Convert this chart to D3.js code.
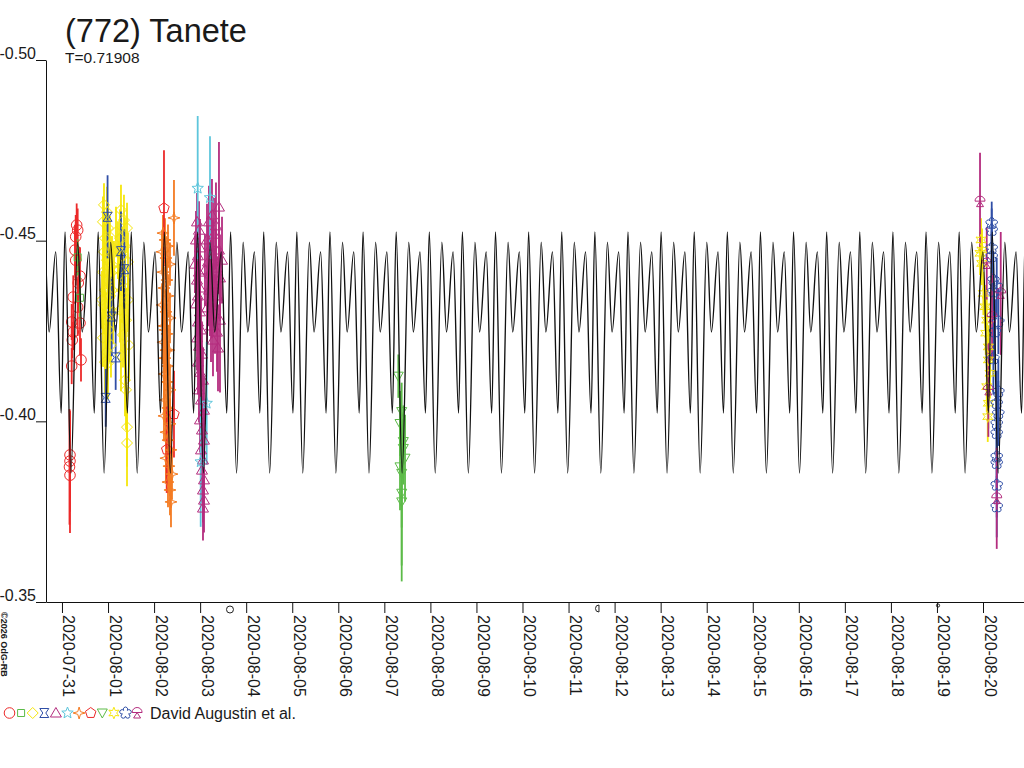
<!DOCTYPE html>
<html>
<head>
<meta charset="utf-8">
<title>(772) Tanete</title>
<script src="https://cdn.jsdelivr.net/npm/d3@7/dist/d3.min.js"></script>
<style>
  body { margin: 0; background: #fff; }
  svg { display: block; }
  text { font-family: "Liberation Sans", Arial, sans-serif; fill: #1a1a1a; }
</style>
</head>
<body>
<div id="chart"></div>
<script>
// all times are days after 2020-07-31 00:00 UT
const T0 = Date.UTC(2020, 6, 31);
const DAY = 86400000;
const dayDomain = [-0.347, 20.89];

// model lightcurve: one rotation, phase 0 = main maximum
const period = 0.71908;
const epoch = 3.661;
const profilePhase = [0, 0.18, 0.38, 0.52, 0.72, 0.885];
const profileMag = [-0.4524, -0.3857, -0.4496, -0.4247, -0.4469, -0.4023];

const magTicks = [-0.50, -0.45, -0.40, -0.35];
const dateTicks = ['2020-07-31', '2020-08-01', '2020-08-02', '2020-08-03', '2020-08-04',
  '2020-08-05', '2020-08-06', '2020-08-07', '2020-08-08', '2020-08-09', '2020-08-10',
  '2020-08-11', '2020-08-12', '2020-08-13', '2020-08-14', '2020-08-15', '2020-08-16',
  '2020-08-17', '2020-08-18', '2020-08-19', '2020-08-20'];

const moonDays = [3.648, 11.628, 19.023];
const moonKinds = ['full', 'last', 'new'];

// observations: [day, mag, error]
const redCircles = [
  [0.319, -0.4543, 0.006], [0.341, -0.4529, 0.006], [0.298, -0.4511, 0.006], [0.282, -0.4474, 0.007],
  [0.298, -0.4446, 0.007], [0.391, -0.4402, 0.008], [0.354, -0.4383, 0.008], [0.245, -0.4344, 0.006],
  [0.341, -0.4316, 0.008], [0.211, -0.4275, 0.005], [0.391, -0.4272, 0.009], [0.245, -0.4247, 0.005],
  [0.224, -0.4225, 0.005], [0.413, -0.4170, 0.006], [0.211, -0.4153, 0.005], [0.174, -0.3907, 0.012],
  [0.174, -0.3890, 0.014], [0.163, -0.3874, 0.016], [0.174, -0.3851, 0.016]
];
const greenSquares = [[0.341, -0.4454, 0.005], [0.391, -0.4342, 0.006]];
const yellowDiamonds = [
  [0.912, -0.4599, 0.006], [0.977, -0.4579, 0.007], [0.890, -0.4552, 0.007], [0.999, -0.4535, 0.007],
  [0.934, -0.4507, 0.007], [1.042, -0.4488, 0.008], [0.912, -0.4469, 0.007], [0.977, -0.4446, 0.008],
  [1.086, -0.4433, 0.008], [0.890, -0.4413, 0.007], [0.999, -0.4391, 0.008], [0.934, -0.4363, 0.008],
  [1.042, -0.4347, 0.008], [0.912, -0.4322, 0.008], [1.108, -0.4303, 0.009], [0.955, -0.4280, 0.008],
  [1.021, -0.4253, 0.009], [0.890, -0.4231, 0.008], [1.064, -0.4211, 0.009], [0.977, -0.4192, 0.009],
  [0.934, -0.4164, 0.009], [1.086, -0.4363, 0.008], [1.129, -0.4419, 0.008], [0.869, -0.4336, 0.008],
  [0.999, -0.4161, 0.01], [1.281, -0.4585, 0.007], [1.346, -0.4557, 0.007], [1.412, -0.4535, 0.007],
  [1.260, -0.4507, 0.008], [1.368, -0.4485, 0.008], [1.303, -0.4458, 0.008], [1.433, -0.4441, 0.008],
  [1.238, -0.4419, 0.008], [1.368, -0.4391, 0.008], [1.303, -0.4363, 0.009], [1.433, -0.4336, 0.009],
  [1.260, -0.4308, 0.009], [1.390, -0.4280, 0.009], [1.325, -0.4239, 0.009], [1.455, -0.4211, 0.01],
  [1.281, -0.4183, 0.01], [1.368, -0.4114, 0.01], [1.390, -0.4087, 0.011], [1.412, -0.3984, 0.011],
  [1.412, -0.3940, 0.012], [1.216, -0.4474, 0.008], [1.173, -0.4524, 0.007]
];
const blueXSquares = [
  [0.990, -0.4566, 0.0115], [1.281, -0.4471, 0.011], [1.353, -0.4421, 0.011],
  [1.079, -0.4290, 0.011], [1.166, -0.4177, 0.009], [0.949, -0.4065, 0.008]
];
const magentaTriangles = [
  [2.932, -0.4552, 0.008], [2.975, -0.4529, 0.008], [2.910, -0.4502, 0.008], [2.997, -0.4480, 0.008],
  [2.953, -0.4458, 0.008], [2.888, -0.4435, 0.008], [2.975, -0.4413, 0.009], [2.932, -0.4391, 0.009],
  [2.997, -0.4369, 0.009], [2.953, -0.4347, 0.009], [2.910, -0.4325, 0.009], [2.997, -0.4303, 0.009],
  [2.953, -0.4275, 0.009], [3.019, -0.4253, 0.009], [2.932, -0.4231, 0.009], [2.975, -0.4208, 0.009],
  [3.040, -0.4186, 0.009], [2.953, -0.4164, 0.009], [2.997, -0.4136, 0.009], [3.062, -0.4114, 0.009],
  [2.975, -0.4087, 0.009], [3.019, -0.4059, 0.009], [3.084, -0.4031, 0.009], [2.997, -0.4004, 0.009],
  [3.040, -0.3976, 0.009], [3.084, -0.3948, 0.009], [3.019, -0.3921, 0.009], [3.062, -0.3893, 0.009],
  [3.040, -0.3865, 0.009], [3.084, -0.3838, 0.009], [3.062, -0.3810, 0.009], [3.084, -0.3782, 0.009],
  [3.062, -0.3760, 0.009], [3.409, -0.4593, 0.018], [3.257, -0.4571, 0.010], [3.192, -0.4552, 0.010],
  [3.344, -0.4541, 0.012], [3.301, -0.4518, 0.010], [3.149, -0.4502, 0.010], [3.236, -0.4485, 0.010],
  [3.409, -0.4474, 0.012], [3.279, -0.4458, 0.010], [3.171, -0.4441, 0.010], [3.344, -0.4424, 0.011],
  [3.214, -0.4408, 0.010], [3.431, -0.4397, 0.012], [3.301, -0.4380, 0.010], [3.192, -0.4363, 0.010],
  [3.366, -0.4347, 0.011], [3.257, -0.4330, 0.010], [3.149, -0.4314, 0.010], [3.323, -0.4297, 0.011],
  [3.431, -0.4280, 0.020], [3.236, -0.4264, 0.010], [3.366, -0.4247, 0.011], [3.279, -0.4225, 0.010],
  [3.388, -0.4203, 0.012], [3.214, -0.4336, 0.010], [3.475, -0.4446, 0.012], [3.105, -0.4419, 0.010]
];
const cyanStars = [
  [2.947, -0.4645, 0.020], [3.214, -0.4619, 0.017], [3.142, -0.4050, 0.017], [3.012, -0.3888, 0.018]
];
const orangeStars = [
  [2.432, -0.4563, 0.0105], [2.193, -0.4521, 0.005], [2.237, -0.4502, 0.006], [2.302, -0.4485, 0.006],
  [2.172, -0.4469, 0.006], [2.258, -0.4452, 0.006], [2.345, -0.4435, 0.006], [2.193, -0.4413, 0.006],
  [2.280, -0.4391, 0.006], [2.215, -0.4369, 0.006], [2.302, -0.4347, 0.006], [2.172, -0.4322, 0.006],
  [2.258, -0.4303, 0.006], [2.345, -0.4286, 0.007], [2.215, -0.4264, 0.006], [2.280, -0.4242, 0.006],
  [2.193, -0.4219, 0.006], [2.323, -0.4197, 0.007], [2.237, -0.4175, 0.006], [2.302, -0.4153, 0.007],
  [2.215, -0.4131, 0.007], [2.280, -0.4109, 0.007], [2.345, -0.4087, 0.007], [2.237, -0.4059, 0.007],
  [2.302, -0.4037, 0.007], [2.215, -0.4015, 0.007], [2.345, -0.3993, 0.007], [2.258, -0.3970, 0.007],
  [2.302, -0.3948, 0.007], [2.367, -0.3921, 0.007], [2.258, -0.3898, 0.007], [2.323, -0.3876, 0.007],
  [2.389, -0.3854, 0.007], [2.302, -0.3832, 0.007], [2.345, -0.3810, 0.007], [2.367, -0.3777, 0.007],
  [2.237, -0.4253, 0.006], [2.258, -0.4197, 0.006]
];
const redPentagons = [[2.215, -0.4590, 0.016], [2.432, -0.4020, 0.012], [2.274, -0.3922, 0.012]];
const greenDownTriangles = [
  [7.303, -0.4125, 0.006], [7.377, -0.4027, 0.008], [7.340, -0.3994, 0.009], [7.412, -0.3944, 0.010],
  [7.449, -0.3898, 0.012], [7.377, -0.3856, 0.015], [7.377, -0.3801, 0.020], [7.377, -0.3777, 0.022],
  [7.412, -0.3925, 0.010], [7.340, -0.3874, 0.012]
];
const yellowStars = [
  [19.957, -0.4502, 0.006], [19.935, -0.4465, 0.006], [19.972, -0.4437, 0.006], [20.007, -0.4354, 0.006],
  [20.044, -0.4317, 0.006], [20.081, -0.4280, 0.006], [20.059, -0.4244, 0.006], [20.116, -0.4206, 0.006],
  [20.116, -0.4170, 0.006], [20.152, -0.4133, 0.007], [20.081, -0.4096, 0.007], [20.116, -0.4050, 0.007],
  [20.103, -0.4013, 0.007], [19.979, -0.4474, 0.006]
];
const blueFlowers = [
  [20.189, -0.4548, 0.006], [20.189, -0.4529, 0.006], [20.189, -0.4479, 0.007], [20.189, -0.4456, 0.007],
  [20.225, -0.4391, 0.008], [20.298, -0.4373, 0.008], [20.225, -0.4359, 0.008], [20.333, -0.4276, 0.009],
  [20.261, -0.4248, 0.009], [20.225, -0.4174, 0.010], [20.333, -0.4082, 0.009], [20.298, -0.4050, 0.009],
  [20.333, -0.4022, 0.009], [20.298, -0.3994, 0.009], [20.298, -0.3967, 0.009], [20.298, -0.3902, 0.009],
  [20.298, -0.3884, 0.009], [20.298, -0.3824, 0.009], [20.298, -0.3764, 0.0085]
];
const magentaTriLegs = [
  [19.935, -0.4608, 0.0135], [20.081, -0.4437, 0.010], [20.385, -0.4354, 0.017],
  [20.196, -0.4289, 0.012], [20.116, -0.4087, 0.013], [20.298, -0.3787, 0.014]
];

const observer = 'David Augustin et al.';

// ---------- marker shapes ----------
function starPath(n, rOut, rIn, rot) {
  const pts = d3.range(2 * n).map(i => {
    const r = i % 2 ? rIn : rOut;
    const a = rot + Math.PI * i / n;
    return [r * Math.sin(a), -r * Math.cos(a)];
  });
  return 'M' + pts.map(p => p[0].toFixed(2) + ',' + p[1].toFixed(2)).join('L') + 'Z';
}
function polyPath(n, r, rot) {
  const pts = d3.range(n).map(i => {
    const a = rot + 2 * Math.PI * i / n;
    return [r * Math.sin(a), -r * Math.cos(a)];
  });
  return 'M' + pts.map(p => p[0].toFixed(2) + ',' + p[1].toFixed(2)).join('L') + 'Z';
}
function flowerPath(n, r, pr) {
  const pts = d3.range(n + 1).map(i => {
    const a = Math.PI / n + 2 * Math.PI * i / n;
    return [r * Math.sin(a), -r * Math.cos(a)];
  });
  let d = 'M' + pts[0][0].toFixed(2) + ',' + pts[0][1].toFixed(2);
  for (let i = 1; i <= n; i++) d += `A${pr},${pr} 0 1 1 ${pts[i][0].toFixed(2)},${pts[i][1].toFixed(2)}`;
  return d + 'Z';
}

const shapes = {
  circle: 'M5.3,0A5.3,5.3 0 1 1 -5.3,0A5.3,5.3 0 1 1 5.3,0Z',
  square: 'M-3.5,-3.5H3.5V3.5H-3.5Z',
  diamond: 'M0,-5.5L5.5,0L0,5.5L-5.5,0Z',
  hourglass: 'M-4.5,-4.5H4.5L1.5,0L4.5,4.5H-4.5L-1.5,0Z',
  triangle: 'M0,-5.5L5.5,4L-5.5,4Z',
  star5: starPath(5, 6, 2.6, 0),
  star4: starPath(4, 6, 1.9, 0),
  pentagon: polyPath(5, 5.5, 0),
  downTriangle: 'M-5,-4H5L0,5Z',
  star6: starPath(6, 5.8, 2.8, 0),
  flower: flowerPath(5, 3.2, 2.2),
  triLeg: 'M-5,-0.5A5,5 0 0 1 5,-0.5Z M0,-0.5L-3.5,5L3.5,5Z'
};

const series = [
  { shape: 'circle', color: '#ec2a2a', data: redCircles },
  { shape: 'square', color: '#5cbb48', data: greenSquares },
  { shape: 'diamond', color: '#f5e60c', data: yellowDiamonds },
  { shape: 'hourglass', color: '#2f4ea6', data: blueXSquares },
  { shape: 'triangle', color: '#b42c7e', data: magentaTriangles },
  { shape: 'star5', color: '#5ec6dc', data: cyanStars },
  { shape: 'star4', color: '#f47b22', data: orangeStars },
  { shape: 'pentagon', color: '#ec2a2a', data: redPentagons },
  { shape: 'downTriangle', color: '#5cbb48', data: greenDownTriangles },
  { shape: 'star6', color: '#f5e60c', data: yellowStars },
  { shape: 'flower', color: '#2f4ea6', data: blueFlowers },
  { shape: 'triLeg', color: '#b42c7e', data: magentaTriLegs }
];

// ---------- chart ----------
const width = 1024, height = 768;
const toDate = d => new Date(T0 + d * DAY);

const svg = d3.select('#chart').append('svg')
  .attr('width', width)
  .attr('height', height);

const x = d3.scaleUtc().domain(dayDomain.map(toDate)).range([46, 1024]);
const y = d3.scaleLinear().domain([-0.50, -0.35]).range([60, 602]);

svg.append('defs').append('clipPath').attr('id', 'plot')
  .append('rect').attr('x', 46).attr('y', 60).attr('width', 978).attr('height', 542);

// titles
svg.append('text').attr('x', 65).attr('y', 42).attr('font-size', 32.5).text('(772) Tanete');
svg.append('text').attr('x', 65).attr('y', 63).attr('font-size', 15.5).text('T=' + period.toFixed(5));

// y axis
svg.append('g')
  .attr('transform', 'translate(46,0)')
  .call(d3.axisLeft(y).tickValues(magTicks).tickFormat(d => d.toFixed(2))
    .tickSize(10).tickSizeOuter(0).tickPadding(0))
  .call(g => g.attr('font-family', null).attr('font-size', null))
  .call(g => g.selectAll('line, path').attr('stroke', '#111'))
  .call(g => g.selectAll('text').attr('x', -10).attr('dy', '-0.12em')
    .attr('font-size', 16).attr('fill', '#1a1a1a'));

// x axis
svg.append('g')
  .attr('transform', 'translate(0,602)')
  .call(d3.axisBottom(x).tickValues(dateTicks.map(s => new Date(s + 'T00:00:00Z')))
    .tickFormat(d3.utcFormat('%Y-%m-%d')).tickSize(11).tickSizeOuter(0))
  .call(g => g.attr('font-family', null).attr('font-size', null))
  .call(g => g.selectAll('line, path').attr('stroke', '#111'))
  .call(g => g.selectAll('text')
    .attr('transform', 'rotate(90)')
    .attr('x', 13).attr('y', -1).attr('dy', 0)
    .attr('text-anchor', 'start')
    .attr('font-size', 16).attr('fill', '#1a1a1a'));

// moon phase marks
const moon = svg.append('g').attr('fill', 'none').attr('stroke', '#222').attr('stroke-width', 1);
moonDays.forEach((d, i) => {
  const mx = x(toDate(d));
  if (moonKinds[i] === 'full') {
    moon.append('circle').attr('cx', mx).attr('cy', 609.5).attr('r', 3.5);
  } else if (moonKinds[i] === 'last') {
    moon.append('path').attr('transform', `translate(${mx},608.5)`)
      .attr('d', 'M1.5,-3.5V3.5M1.5,-3.5A3.5,3.5 0 0 0 1.5,3.5');
  } else {
    moon.append('circle').attr('cx', mx).attr('cy', 605.5).attr('r', 1.6);
  }
});

// observations
const plot = svg.append('g').attr('clip-path', 'url(#plot)');
series.forEach(s => {
  const g = plot.append('g');
  g.selectAll('line').data(s.data).join('line')
    .attr('x1', d => x(toDate(d[0]))).attr('x2', d => x(toDate(d[0])))
    .attr('y1', d => y(d[1] - d[2])).attr('y2', d => y(d[1] + d[2]))
    .attr('stroke', s.color).attr('stroke-width', 1.8);
});
series.forEach(s => {
  plot.append('g').selectAll('path').data(s.data).join('path')
    .attr('transform', d => `translate(${x(toDate(d[0]))},${y(d[1])})`)
    .attr('d', shapes[s.shape])
    .attr('fill', 'none').attr('stroke', s.color).attr('stroke-width', 1);
});

// model curve on top
const curvePts = [];
const kMin = Math.floor((dayDomain[0] - epoch) / period) - 1;
const kMax = Math.ceil((dayDomain[1] - epoch) / period) + 1;
for (let k = kMin; k <= kMax; k++) {
  profilePhase.forEach((p, i) => curvePts.push([epoch + (k + p) * period, profileMag[i]]));
}
plot.append('path')
  .datum(curvePts)
  .attr('fill', 'none')
  .attr('stroke', '#111')
  .attr('stroke-width', 1.35)
  .attr('d', d3.line().x(d => x(toDate(d[0]))).y(d => y(d[1])).curve(d3.curveMonotoneX));

// copyright, vertical
svg.append('text')
  .attr('transform', 'translate(1,612) rotate(90)')
  .attr('font-size', 9).attr('font-weight', 'bold')
  .text('\u00a92026 OdG-RB');

// legend
const legend = svg.append('g').attr('transform', 'translate(0,713)');
series.forEach((s, i) => {
  legend.append('path')
    .attr('transform', `translate(${9.5 + i * 11.6},0)`)
    .attr('d', shapes[s.shape])
    .attr('fill', 'none').attr('stroke', s.color).attr('stroke-width', 1);
});
legend.append('text').attr('x', 150).attr('y', 6).attr('font-size', 16).text(observer);
</script>
</body>
</html>
